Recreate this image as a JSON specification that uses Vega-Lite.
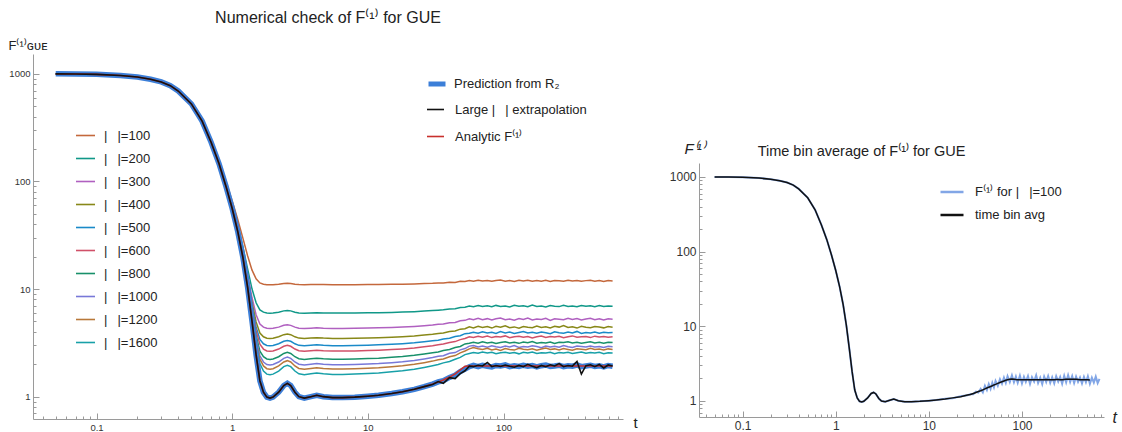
{
"$schema": "https://vega.github.io/schema/vega-lite/v6.json",
"background": "white",
"padding": {"left": 8, "top": 10, "right": 5, "bottom": 0},
"config": {
  "font": "Liberation Sans",
  "view": {"stroke": null},
  "title": {"fontWeight": "normal", "color": "#222222", "font": "Liberation Sans"},
  "axis": {"grid": false, "domainColor": "#9a9a9a", "tickColor": "#9a9a9a", "labelColor": "#333333", "titleColor": "#222222", "titleFontWeight": "normal", "labelFont": "Liberation Sans", "titleFont": "Liberation Sans"},
  "legend": {"labelColor": "#222222", "labelFont": "Liberation Sans"}
},
"datasets": {
"left": [
{"t":0.05,"P":1000,"A":1000,"E":1000,"d100":1010,"d200":1005,"d300":1003,"d400":1003,"d500":1002,"d600":1002,"d800":1001,"d1000":1001,"d1200":1001,"d1600":1001},
{"t":0.07,"P":998,"A":998,"E":998,"d100":1008,"d200":1003,"d300":1001,"d400":1000,"d500":1000,"d600":1000,"d800":999,"d1000":999,"d1200":999,"d1600":999},
{"t":0.1,"P":990,"A":990,"E":990,"d100":1000,"d200":995,"d300":993,"d400":993,"d500":992,"d600":992,"d800":991,"d1000":991,"d1200":991,"d1600":991},
{"t":0.15,"P":967,"A":967,"E":967,"d100":977,"d200":972,"d300":970,"d400":970,"d500":969,"d600":969,"d800":968,"d1000":968,"d1200":968,"d1600":968},
{"t":0.2,"P":934,"A":934,"E":934,"d100":944,"d200":939,"d300":937,"d400":937,"d500":936,"d600":936,"d800":935,"d1000":935,"d1200":935,"d1600":935},
{"t":0.25,"P":892,"A":892,"E":892,"d100":902,"d200":897,"d300":895,"d400":895,"d500":894,"d600":894,"d800":893,"d1000":893,"d1200":893,"d1600":893},
{"t":0.3,"P":842,"A":842,"E":842,"d100":852,"d200":847,"d300":845,"d400":845,"d500":844,"d600":844,"d800":843,"d1000":843,"d1200":843,"d1600":843},
{"t":0.35,"P":777,"A":777,"E":777,"d100":787,"d200":782,"d300":780,"d400":780,"d500":779,"d600":779,"d800":778,"d1000":778,"d1200":778,"d1600":778},
{"t":0.4,"P":693,"A":693,"E":693,"d100":703,"d200":698,"d300":696,"d400":696,"d500":695,"d600":695,"d800":694,"d1000":694,"d1200":694,"d1600":694},
{"t":0.5,"P":526,"A":526,"E":526,"d100":536,"d200":531,"d300":529,"d400":529,"d500":528,"d600":528,"d800":527,"d1000":527,"d1200":527,"d1600":527},
{"t":0.6,"P":364,"A":364,"E":364,"d100":374,"d200":369,"d300":367,"d400":367,"d500":366,"d600":366,"d800":365,"d1000":365,"d1200":365,"d1600":365},
{"t":0.7,"P":230,"A":230,"E":230,"d100":240,"d200":235,"d300":233,"d400":233,"d500":232,"d600":232,"d800":231,"d1000":231,"d1200":231,"d1600":231},
{"t":0.8,"P":146,"A":146,"E":146,"d100":156,"d200":151,"d300":149,"d400":149,"d500":148,"d600":148,"d800":147,"d1000":147,"d1200":147,"d1600":147},
{"t":0.9,"P":90,"A":90,"E":90,"d100":100,"d200":95,"d300":93.3,"d400":92.5,"d500":92,"d600":91.7,"d800":91.3,"d1000":91,"d1200":90.8,"d1600":90.6},
{"t":1.0,"P":56,"A":56,"E":56,"d100":66,"d200":61,"d300":59.3,"d400":58.5,"d500":58,"d600":57.7,"d800":57.3,"d1000":57,"d1200":56.8,"d1600":56.6},
{"t":1.1,"P":34,"A":34,"E":34,"d100":44,"d200":39,"d300":37.3,"d400":36.5,"d500":36,"d600":35.7,"d800":35.3,"d1000":35,"d1200":34.8,"d1600":34.6},
{"t":1.2,"P":19.6,"A":19.6,"E":19.6,"d100":29.6,"d200":24.6,"d300":22.9,"d400":22.1,"d500":21.6,"d600":21.3,"d800":20.9,"d1000":20.6,"d1200":20.4,"d1600":20.2},
{"t":1.3,"P":10.3,"A":10.3,"E":10.3,"d100":20.3,"d200":15.3,"d300":13.6,"d400":12.8,"d500":12.3,"d600":12,"d800":11.6,"d1000":11.3,"d1200":11.1,"d1600":10.9},
{"t":1.4,"P":5.0,"A":5.0,"E":5.0,"d100":15,"d200":10,"d300":8.3,"d400":7.5,"d500":7,"d600":6.7,"d800":6.3,"d1000":6,"d1200":5.8,"d1600":5.6},
{"t":1.5,"P":2.45,"A":2.45,"E":2.45,"d100":12.45,"d200":7.45,"d300":5.78,"d400":4.95,"d500":4.45,"d600":4.12,"d800":3.7,"d1000":3.45,"d1200":3.28,"d1600":3.08},
{"t":1.6,"P":1.4,"A":1.4,"E":1.4,"d100":11.4,"d200":6.4,"d300":4.73,"d400":3.9,"d500":3.4,"d600":3.07,"d800":2.65,"d1000":2.4,"d1200":2.23,"d1600":2.03},
{"t":1.7,"P":1.1,"A":1.1,"E":1.1,"d100":11.1,"d200":6.1,"d300":4.43,"d400":3.6,"d500":3.1,"d600":2.77,"d800":2.35,"d1000":2.1,"d1200":1.93,"d1600":1.73},
{"t":1.8,"P":0.99,"A":0.99,"E":0.99,"d100":10.99,"d200":5.99,"d300":4.32,"d400":3.49,"d500":2.99,"d600":2.66,"d800":2.24,"d1000":1.99,"d1200":1.82,"d1600":1.62},
{"t":1.9,"P":0.97,"A":0.97,"E":0.97,"d100":10.97,"d200":5.97,"d300":4.3,"d400":3.47,"d500":2.97,"d600":2.64,"d800":2.22,"d1000":1.97,"d1200":1.8,"d1600":1.6},
{"t":2.0,"P":0.99,"A":0.99,"E":0.99,"d100":10.99,"d200":5.99,"d300":4.32,"d400":3.49,"d500":2.99,"d600":2.66,"d800":2.24,"d1000":1.99,"d1200":1.82,"d1600":1.62},
{"t":2.2,"P":1.1,"A":1.1,"E":1.1,"d100":11.1,"d200":6.1,"d300":4.43,"d400":3.6,"d500":3.1,"d600":2.77,"d800":2.35,"d1000":2.1,"d1200":1.93,"d1600":1.73},
{"t":2.4,"P":1.27,"A":1.27,"E":1.27,"d100":11.27,"d200":6.27,"d300":4.6,"d400":3.77,"d500":3.27,"d600":2.94,"d800":2.52,"d1000":2.27,"d1200":2.1,"d1600":1.9},
{"t":2.55,"P":1.33,"A":1.33,"E":1.33,"d100":11.33,"d200":6.33,"d300":4.66,"d400":3.83,"d500":3.33,"d600":3.0,"d800":2.58,"d1000":2.33,"d1200":2.16,"d1600":1.96},
{"t":2.7,"P":1.27,"A":1.27,"E":1.27,"d100":11.27,"d200":6.27,"d300":4.6,"d400":3.77,"d500":3.27,"d600":2.94,"d800":2.52,"d1000":2.27,"d1200":2.1,"d1600":1.9},
{"t":2.9,"P":1.1,"A":1.1,"E":1.1,"d100":11.1,"d200":6.1,"d300":4.43,"d400":3.6,"d500":3.1,"d600":2.77,"d800":2.35,"d1000":2.1,"d1200":1.93,"d1600":1.73},
{"t":3.1,"P":1.0,"A":1.0,"E":1.0,"d100":11,"d200":6,"d300":4.33,"d400":3.5,"d500":3,"d600":2.67,"d800":2.25,"d1000":2,"d1200":1.83,"d1600":1.63},
{"t":3.4,"P":0.97,"A":0.97,"E":0.97,"d100":10.97,"d200":5.97,"d300":4.3,"d400":3.47,"d500":2.97,"d600":2.64,"d800":2.22,"d1000":1.97,"d1200":1.8,"d1600":1.6},
{"t":3.8,"P":1.0,"A":1.0,"E":1.0,"d100":11,"d200":6,"d300":4.33,"d400":3.5,"d500":3,"d600":2.67,"d800":2.25,"d1000":2,"d1200":1.83,"d1600":1.63},
{"t":4.2,"P":1.03,"A":1.03,"E":1.03,"d100":11.03,"d200":6.03,"d300":4.36,"d400":3.53,"d500":3.03,"d600":2.7,"d800":2.28,"d1000":2.03,"d1200":1.86,"d1600":1.66},
{"t":4.7,"P":1.0,"A":1.0,"E":1.0,"d100":11,"d200":6,"d300":4.33,"d400":3.5,"d500":3,"d600":2.67,"d800":2.25,"d1000":2,"d1200":1.83,"d1600":1.63},
{"t":5.5,"P":0.98,"A":0.98,"E":0.98,"d100":10.98,"d200":5.98,"d300":4.31,"d400":3.48,"d500":2.98,"d600":2.65,"d800":2.23,"d1000":1.98,"d1200":1.81,"d1600":1.61},
{"t":6.5,"P":0.98,"A":0.98,"E":0.98,"d100":10.98,"d200":5.98,"d300":4.31,"d400":3.48,"d500":2.98,"d600":2.65,"d800":2.23,"d1000":1.98,"d1200":1.81,"d1600":1.61},
{"t":8,"P":0.99,"A":0.99,"E":0.99,"d100":10.99,"d200":5.99,"d300":4.32,"d400":3.49,"d500":2.99,"d600":2.66,"d800":2.24,"d1000":1.99,"d1200":1.82,"d1600":1.62},
{"t":10,"P":1.01,"A":1.01,"E":1.01,"d100":11.01,"d200":6.01,"d300":4.34,"d400":3.51,"d500":3.01,"d600":2.68,"d800":2.26,"d1000":2.01,"d1200":1.84,"d1600":1.64},
{"t":12,"P":1.03,"A":1.03,"E":1.03,"d100":11.03,"d200":6.03,"d300":4.36,"d400":3.53,"d500":3.03,"d600":2.7,"d800":2.28,"d1000":2.03,"d1200":1.86,"d1600":1.66},
{"t":15,"P":1.07,"A":1.07,"E":1.07,"d100":11.07,"d200":6.07,"d300":4.4,"d400":3.57,"d500":3.07,"d600":2.74,"d800":2.32,"d1000":2.07,"d1200":1.9,"d1600":1.7},
{"t":18,"P":1.11,"A":1.11,"E":1.11,"d100":11.11,"d200":6.11,"d300":4.44,"d400":3.61,"d500":3.11,"d600":2.78,"d800":2.36,"d1000":2.11,"d1200":1.94,"d1600":1.74},
{"t":22,"P":1.17,"A":1.17,"E":1.17,"d100":11.17,"d200":6.17,"d300":4.5,"d400":3.67,"d500":3.17,"d600":2.84,"d800":2.42,"d1000":2.17,"d1200":2.0,"d1600":1.8},
{"t":26,"P":1.24,"A":1.24,"E":1.24,"d100":11.24,"d200":6.24,"d300":4.57,"d400":3.74,"d500":3.24,"d600":2.91,"d800":2.49,"d1000":2.24,"d1200":2.07,"d1600":1.87},
{"t":30,"P":1.31,"A":1.31,"E":1.3,"d100":11.31,"d200":6.31,"d300":4.64,"d400":3.81,"d500":3.31,"d600":2.98,"d800":2.56,"d1000":2.31,"d1200":2.14,"d1600":1.94},
{"t":33,"P":1.37,"A":1.37,"E":1.38,"d100":11.39,"d200":6.37,"d300":4.7,"d400":3.87,"d500":3.35,"d600":3.04,"d800":2.6,"d1000":2.37,"d1200":2.2,"d1600":1.99},
{"t":36,"P":1.41,"A":1.43,"E":1.33,"d100":11.37,"d200":6.41,"d300":4.74,"d400":3.9,"d500":3.44,"d600":3.08,"d800":2.68,"d1000":2.4,"d1200":2.24,"d1600":2.06},
{"t":40,"P":1.51,"A":1.52,"E":1.5,"d100":11.58,"d200":6.53,"d300":4.86,"d400":4.04,"d500":3.49,"d600":3.19,"d800":2.74,"d1000":2.53,"d1200":2.35,"d1600":2.12},
{"t":44,"P":1.58,"A":1.63,"E":1.47,"d100":11.53,"d200":6.57,"d300":4.9,"d400":4.07,"d500":3.62,"d600":3.25,"d800":2.86,"d1000":2.57,"d1200":2.41,"d1600":2.23},
{"t":48,"P":1.71,"A":1.77,"E":1.64,"d100":11.79,"d200":6.74,"d300":5.07,"d400":4.24,"d500":3.68,"d600":3.39,"d800":2.93,"d1000":2.72,"d1200":2.55,"d1600":2.32},
{"t":52,"P":1.8,"A":1.92,"E":1.74,"d100":11.74,"d200":6.78,"d300":5.12,"d400":4.28,"d500":3.85,"d600":3.47,"d800":3.09,"d1000":2.8,"d1200":2.66,"d1600":2.46},
{"t":56,"P":1.9,"A":1.93,"E":1.92,"d100":12.02,"d200":6.95,"d300":5.3,"d400":4.46,"d500":3.88,"d600":3.6,"d800":3.13,"d1000":2.95,"d1200":2.78,"d1600":2.52},
{"t":60,"P":1.95,"A":1.93,"E":1.9,"d100":11.84,"d200":6.86,"d300":5.18,"d400":4.36,"d500":3.97,"d600":3.55,"d800":3.2,"d1000":2.99,"d1200":2.86,"d1600":2.57},
{"t":65,"P":1.9,"A":1.93,"E":1.96,"d100":12.08,"d200":7.02,"d300":5.36,"d400":4.52,"d500":3.89,"d600":3.64,"d800":3.14,"d1000":2.9,"d1200":2.79,"d1600":2.53},
{"t":70,"P":1.96,"A":1.93,"E":1.93,"d100":11.87,"d200":6.88,"d300":5.2,"d400":4.39,"d500":4.0,"d600":3.57,"d800":3.23,"d1000":2.96,"d1200":2.74,"d1600":2.6},
{"t":76,"P":1.92,"A":1.93,"E":2.08,"d100":12.03,"d200":6.99,"d300":5.31,"d400":4.48,"d500":3.9,"d600":3.66,"d800":3.16,"d1000":2.88,"d1200":2.81,"d1600":2.54},
{"t":82,"P":1.89,"A":1.93,"E":1.9,"d100":11.8,"d200":6.84,"d300":5.16,"d400":4.34,"d500":3.96,"d600":3.54,"d800":3.21,"d1000":2.97,"d1200":2.72,"d1600":2.58},
{"t":88,"P":1.95,"A":1.93,"E":1.95,"d100":12.01,"d200":7.05,"d300":5.29,"d400":4.5,"d500":3.87,"d600":3.62,"d800":3.12,"d1000":2.91,"d1200":2.77,"d1600":2.51},
{"t":95,"P":1.93,"A":1.93,"E":1.91,"d100":12.11,"d200":6.9,"d300":5.38,"d400":4.41,"d500":4.02,"d600":3.58,"d800":3.19,"d1000":2.86,"d1200":2.69,"d1600":2.56},
{"t":103,"P":1.97,"A":1.93,"E":1.97,"d100":11.83,"d200":6.97,"d300":5.19,"d400":4.56,"d500":3.91,"d600":3.67,"d800":3.24,"d1000":2.95,"d1200":2.8,"d1600":2.59},
{"t":111,"P":1.9,"A":1.93,"E":1.92,"d100":11.99,"d200":6.83,"d300":5.27,"d400":4.37,"d500":3.98,"d600":3.53,"d800":3.15,"d1000":2.9,"d1200":2.75,"d1600":2.53},
{"t":120,"P":1.94,"A":1.93,"E":1.88,"d100":11.78,"d200":7.06,"d300":5.14,"d400":4.45,"d500":3.86,"d600":3.61,"d800":3.2,"d1000":2.98,"d1200":2.71,"d1600":2.57},
{"t":130,"P":1.91,"A":1.93,"E":1.95,"d100":12.05,"d200":6.92,"d300":5.33,"d400":4.33,"d500":3.95,"d600":3.65,"d800":3.13,"d1000":2.87,"d1200":2.82,"d1600":2.5},
{"t":140,"P":1.96,"A":1.93,"E":1.9,"d100":11.88,"d200":6.98,"d300":5.22,"d400":4.49,"d500":4.03,"d600":3.56,"d800":3.22,"d1000":2.93,"d1200":2.76,"d1600":2.58},
{"t":151,"P":1.92,"A":1.93,"E":2.0,"d100":12.09,"d200":6.85,"d300":5.37,"d400":4.42,"d500":3.9,"d600":3.63,"d800":3.17,"d1000":2.89,"d1200":2.73,"d1600":2.55},
{"t":163,"P":1.95,"A":1.93,"E":1.92,"d100":11.81,"d200":7.1,"d300":5.17,"d400":4.38,"d500":3.97,"d600":3.52,"d800":3.25,"d1000":2.97,"d1200":2.79,"d1600":2.6},
{"t":176,"P":1.89,"A":1.93,"E":1.86,"d100":12.01,"d200":6.89,"d300":5.28,"d400":4.54,"d500":3.88,"d600":3.6,"d800":3.14,"d1000":2.92,"d1200":2.7,"d1600":2.52},
{"t":190,"P":1.94,"A":1.93,"E":1.95,"d100":11.85,"d200":6.95,"d300":5.21,"d400":4.4,"d500":3.99,"d600":3.66,"d800":3.19,"d1000":2.85,"d1200":2.77,"d1600":2.56},
{"t":205,"P":1.97,"A":1.93,"E":1.9,"d100":12.06,"d200":6.82,"d300":5.34,"d400":4.47,"d500":3.92,"d600":3.55,"d800":3.16,"d1000":2.96,"d1200":2.83,"d1600":2.54},
{"t":221,"P":1.91,"A":1.93,"E":1.98,"d100":11.77,"d200":7.03,"d300":5.12,"d400":4.35,"d500":3.85,"d600":3.62,"d800":3.22,"d1000":2.9,"d1200":2.74,"d1600":2.59},
{"t":238,"P":1.93,"A":1.93,"E":1.93,"d100":12.02,"d200":6.93,"d300":5.3,"d400":4.5,"d500":4.01,"d600":3.58,"d800":3.12,"d1000":2.94,"d1200":2.78,"d1600":2.51},
{"t":257,"P":1.96,"A":1.93,"E":2.03,"d100":11.96,"d200":6.87,"d300":5.25,"d400":4.43,"d500":3.93,"d600":3.64,"d800":3.2,"d1000":2.88,"d1200":2.72,"d1600":2.57},
{"t":277,"P":1.9,"A":1.93,"E":1.9,"d100":11.81,"d200":7.07,"d300":5.18,"d400":4.58,"d500":3.89,"d600":3.53,"d800":3.18,"d1000":2.99,"d1200":2.8,"d1600":2.55},
{"t":299,"P":1.94,"A":1.93,"E":1.95,"d100":12.08,"d200":6.9,"d300":5.35,"d400":4.39,"d500":3.98,"d600":3.61,"d800":3.24,"d1000":2.91,"d1200":2.75,"d1600":2.58},
{"t":322,"P":1.92,"A":1.93,"E":1.92,"d100":11.87,"d200":6.96,"d300":5.21,"d400":4.46,"d500":3.91,"d600":3.67,"d800":3.15,"d1000":2.87,"d1200":2.7,"d1600":2.52},
{"t":348,"P":1.97,"A":1.93,"E":2.12,"d100":12.03,"d200":6.84,"d300":5.32,"d400":4.34,"d500":4.04,"d600":3.56,"d800":3.21,"d1000":2.95,"d1200":2.79,"d1600":2.56},
{"t":375,"P":1.9,"A":1.93,"E":1.62,"d100":11.8,"d200":7.04,"d300":5.15,"d400":4.51,"d500":3.87,"d600":3.6,"d800":3.13,"d1000":2.92,"d1200":2.76,"d1600":2.6},
{"t":405,"P":1.93,"A":1.93,"E":1.94,"d100":11.98,"d200":6.91,"d300":5.27,"d400":4.41,"d500":3.95,"d600":3.63,"d800":3.19,"d1000":2.89,"d1200":2.73,"d1600":2.53},
{"t":437,"P":1.96,"A":1.93,"E":1.98,"d100":12.05,"d200":6.99,"d300":5.34,"d400":4.37,"d500":3.9,"d600":3.54,"d800":3.23,"d1000":2.96,"d1200":2.81,"d1600":2.57},
{"t":471,"P":1.91,"A":1.93,"E":1.9,"d100":11.84,"d200":6.86,"d300":5.2,"d400":4.49,"d500":3.99,"d600":3.65,"d800":3.16,"d1000":2.9,"d1200":2.74,"d1600":2.54},
{"t":508,"P":1.94,"A":1.93,"E":1.99,"d100":12.01,"d200":7.02,"d300":5.3,"d400":4.44,"d500":3.88,"d600":3.58,"d800":3.2,"d1000":2.93,"d1200":2.77,"d1600":2.58},
{"t":548,"P":1.89,"A":1.93,"E":1.85,"d100":11.78,"d200":6.88,"d300":5.16,"d400":4.36,"d500":3.96,"d600":3.62,"d800":3.14,"d1000":2.87,"d1200":2.71,"d1600":2.51},
{"t":591,"P":1.95,"A":1.93,"E":1.97,"d100":12.03,"d200":6.97,"d300":5.29,"d400":4.48,"d500":3.92,"d600":3.56,"d800":3.21,"d1000":2.94,"d1200":2.78,"d1600":2.56},
{"t":637,"P":1.92,"A":1.93,"E":1.93,"d100":11.9,"d200":6.93,"d300":5.24,"d400":4.42,"d500":3.94,"d600":3.6,"d800":3.18,"d1000":2.91,"d1200":2.75,"d1600":2.55}
],
"right": [
{"t":0.05,"L":1000,"B":1000},{"t":0.07,"L":998,"B":998},{"t":0.1,"L":990,"B":990},{"t":0.15,"L":967,"B":967},{"t":0.2,"L":934,"B":934},{"t":0.25,"L":892,"B":892},{"t":0.3,"L":842,"B":842},{"t":0.35,"L":777,"B":777},{"t":0.4,"L":693,"B":693},{"t":0.5,"L":526,"B":526},{"t":0.6,"L":364,"B":364},{"t":0.7,"L":230,"B":230},{"t":0.8,"L":146,"B":146},{"t":0.9,"L":90,"B":90},{"t":1.0,"L":56,"B":56},{"t":1.1,"L":34,"B":34},{"t":1.2,"L":19.6,"B":19.6},{"t":1.3,"L":10.3,"B":10.3},{"t":1.4,"L":5.0,"B":5.0},{"t":1.5,"L":2.45,"B":2.45},{"t":1.6,"L":1.4,"B":1.4},{"t":1.7,"L":1.1,"B":1.1},{"t":1.8,"L":0.99,"B":0.99},{"t":1.9,"L":0.97,"B":0.97},{"t":2.0,"L":0.99,"B":0.99},{"t":2.2,"L":1.1,"B":1.1},{"t":2.4,"L":1.26,"B":1.26},{"t":2.55,"L":1.3,"B":1.3},{"t":2.7,"L":1.24,"B":1.24},{"t":2.9,"L":1.08,"B":1.08},{"t":3.1,"L":1.0,"B":1.0},{"t":3.4,"L":0.98,"B":0.98},{"t":3.8,"L":1.02,"B":1.02},{"t":4.2,"L":1.06,"B":1.06},{"t":4.7,"L":1.01,"B":1.01},{"t":5.5,"L":0.98,"B":0.98},{"t":6.5,"L":0.98,"B":0.98},{"t":8,"L":0.99,"B":0.99},{"t":10,"L":1.01,"B":1.01},{"t":12,"L":1.03,"B":1.03},{"t":15,"L":1.07,"B":1.06},{"t":18,"L":1.09,"B":1.1},{"t":22,"L":1.16,"B":1.14},{"t":26,"L":1.19,"B":1.2},
{"t":28,"L":1.24,"B":1.22},{"t":30,"L":1.23,"B":1.26},{"t":32,"L":1.33,"B":1.3},{"t":34,"L":1.3,"B":1.34},{"t":36,"L":1.45,"B":1.37},{"t":38,"L":1.3,"B":1.41},{"t":40,"L":1.6,"B":1.45},{"t":42,"L":1.4,"B":1.49},{"t":44,"L":1.68,"B":1.53},{"t":46,"L":1.45,"B":1.56},{"t":48,"L":1.75,"B":1.6},{"t":50,"L":1.52,"B":1.64},{"t":52,"L":1.85,"B":1.67},{"t":55,"L":1.6,"B":1.72},{"t":58,"L":1.95,"B":1.77},{"t":61,"L":1.7,"B":1.81},{"t":64,"L":2.05,"B":1.85},{"t":67,"L":1.75,"B":1.89},{"t":70,"L":2.15,"B":1.92},{"t":74,"L":1.8,"B":1.95},{"t":78,"L":2.2,"B":1.97},{"t":82,"L":1.78,"B":1.96},{"t":86,"L":2.12,"B":1.94},{"t":90,"L":1.75,"B":1.93},{"t":95,"L":2.18,"B":1.92},{"t":100,"L":1.72,"B":1.93},{"t":105,"L":2.1,"B":1.93},{"t":110,"L":1.8,"B":1.92},{"t":116,"L":2.15,"B":1.92},{"t":122,"L":1.7,"B":1.93},{"t":128,"L":2.08,"B":1.92},{"t":135,"L":1.82,"B":1.92},{"t":142,"L":2.2,"B":1.93},{"t":149,"L":1.74,"B":1.93},{"t":157,"L":2.05,"B":1.92},{"t":165,"L":1.68,"B":1.92},{"t":173,"L":2.12,"B":1.93},{"t":182,"L":1.8,"B":1.94},{"t":191,"L":2.16,"B":1.93},{"t":201,"L":1.75,"B":1.93},{"t":211,"L":2.08,"B":1.92},{"t":222,"L":1.72,"B":1.93},{"t":233,"L":2.14,"B":1.94},{"t":245,"L":1.82,"B":1.94},{"t":257,"L":2.1,"B":1.93},{"t":270,"L":1.7,"B":1.93},{"t":284,"L":2.18,"B":1.94},{"t":298,"L":1.78,"B":1.95},{"t":313,"L":2.22,"B":1.95},{"t":329,"L":1.8,"B":1.96},{"t":346,"L":2.15,"B":1.96},{"t":363,"L":1.74,"B":1.96},{"t":381,"L":2.12,"B":1.95},{"t":400,"L":1.8,"B":1.94},{"t":420,"L":2.06,"B":1.93},{"t":441,"L":1.72,"B":1.93},{"t":463,"L":2.1,"B":1.92},{"t":486,"L":1.78,"B":1.92},{"t":510,"L":2.14,"B":1.92},{"t":536,"L":1.7,"B":1.91},{"t":563,"L":2.05},{"t":591,"L":1.76},{"t":620,"L":2.12},{"t":650,"L":1.74},{"t":680,"L":1.98}
]
},
"spacing": 31,
"resolve": {"scale": {"color": "independent"}, "legend": {"color": "independent"}},
"hconcat": [
{
  "width": 590,
  "height": 365,
  "title": {"text": "Numerical check of F⁽¹⁾ for GUE", "fontSize": 16, "anchor": "middle", "frame": "group", "offset": 13},
  "data": {"name": "left"},
  "encoding": {
    "x": {"field": "t", "type": "quantitative",
      "scale": {"type": "log", "domain": [0.034, 760], "nice": false},
      "axis": {
        "values": [0.04,0.05,0.06,0.07,0.08,0.09,0.1,0.2,0.3,0.4,0.5,0.6,0.7,0.8,0.9,1,2,3,4,5,6,7,8,9,10,20,30,40,50,60,70,80,90,100,200,300,400,500,600,700],
        "format": "~g",
        "labelExpr": "(datum.value==0.1||datum.value==1||datum.value==10||datum.value==100)?datum.label:''",
        "tickSize": {"condition": {"test": "datum.value==0.1||datum.value==1||datum.value==10||datum.value==100", "value": -6}, "value": -3},
        "labelPadding": 9, "labelFontSize": 9.5, "labelOverlap": false, "labelFlush": false,
        "title": "t", "titleAngle": 0, "titleX": 600, "titleY": 3, "titleAlign": "left", "titleBaseline": "middle", "titleFontSize": 15
      }
    },
    "y": {"field": "value", "type": "quantitative",
      "scale": {"type": "log", "domain": [0.62, 1530], "nice": false},
      "axis": {
        "values": [0.7,0.8,0.9,1,2,3,4,5,6,7,8,9,10,20,30,40,50,60,70,80,90,100,200,300,400,500,600,700,800,900,1000],
        "format": "~g",
        "labelExpr": "(datum.value==1||datum.value==10||datum.value==100||datum.value==1000)?datum.label:''",
        "tickSize": {"condition": {"test": "datum.value==1||datum.value==10||datum.value==100||datum.value==1000", "value": -6}, "value": -3},
        "labelPadding": 9, "labelFontSize": 9.5, "labelOverlap": false, "labelFlush": false,
        "title": "F⁽¹⁾ɢᴜᴇ", "titleAngle": 0, "titleX": -25, "titleY": -5, "titleAlign": "left", "titleBaseline": "alphabetic", "titleFontSize": 13
      }
    }
  },
  "layer": [
    {
      "transform": [{"fold": ["d100","d200","d300","d400","d500","d600","d800","d1000","d1200","d1600"], "as": ["series","value"]}],
      "mark": {"type": "line", "strokeWidth": 1.5},
      "encoding": {
        "color": {"field": "series", "type": "nominal",
          "scale": {"domain": ["d100","d200","d300","d400","d500","d600","d800","d1000","d1200","d1600"],
                    "range": ["#c4683c","#109888","#b060c0","#888818","#1a8ac8","#d05068","#18906a","#7878d8","#b8783a","#18a0a8"]},
          "legend": {"title": null, "orient": "none", "legendX": 42, "legendY": 71, "symbolType": "stroke", "symbolSize": 361, "symbolStrokeWidth": 1.6, "labelFontSize": 13, "labelOffset": 8, "rowPadding": 5,
                     "labelExpr": "replace(datum.label, 'd', '|\u2002 |=')"}
        }
      }
    },
    {
      "transform": [{"fold": ["P"], "as": ["series","value"]}],
      "mark": {"type": "line", "strokeWidth": 5.5},
      "encoding": {
        "color": {"field": "series", "type": "nominal",
          "scale": {"domain": ["P"], "range": ["#3c7fd8"]},
          "legend": {"title": null, "orient": "none", "legendX": 393, "legendY": 19, "symbolType": "stroke", "symbolSize": 289, "symbolStrokeWidth": 5, "labelFontSize": 13, "labelOffset": 6,
            "labelExpr": "'Prediction from R₂'"}
        }
      }
    },
    {
      "transform": [{"fold": ["A","E"], "as": ["series","value"]}],
      "mark": {"type": "line", "strokeWidth": 1.6},
      "encoding": {
        "color": {"field": "series", "type": "nominal",
          "scale": {"domain": ["E","A"], "range": ["#111111","#c8302c"]},
          "legend": {"title": null, "orient": "none", "legendX": 393, "legendY": 46, "symbolType": "stroke", "symbolSize": 289, "symbolStrokeWidth": 1.6, "labelFontSize": 13, "labelOffset": 10, "rowPadding": 10,
            "labelExpr": "datum.label=='E'?'Large |\u2002 | extrapolation':'Analytic F⁽¹⁾'"}
        }
      }
    }
  ],
  "resolve": {"scale": {"color": "independent"}, "legend": {"color": "independent"}}
},
{
  "spacing": 0,
  "resolve": {"scale": {"color": "independent"}, "legend": {"color": "independent"}},
  "vconcat": [
    {"width": 10, "height": 87, "data": {"values": []}, "mark": "point"},
    {
      "width": 405,
      "height": 254,
      "title": {"text": "Time bin average of F⁽¹⁾ for GUE", "fontSize": 14.5, "anchor": "middle", "frame": "group", "offset": 0, "dx": -40, "dy": 18},
      "data": {"name": "right"},
      "encoding": {
        "x": {"field": "t", "type": "quantitative",
          "scale": {"type": "log", "domain": [0.034, 760], "nice": false},
          "axis": {
            "values": [0.04,0.05,0.06,0.07,0.08,0.09,0.1,0.2,0.3,0.4,0.5,0.6,0.7,0.8,0.9,1,2,3,4,5,6,7,8,9,10,20,30,40,50,60,70,80,90,100,200,300,400,500,600,700],
            "format": "~g",
            "labelExpr": "(datum.value==0.1||datum.value==1||datum.value==10||datum.value==100)?datum.label:''",
            "tickSize": {"condition": {"test": "datum.value==0.1||datum.value==1||datum.value==10||datum.value==100", "value": -6}, "value": -3},
            "labelPadding": 9, "labelFontSize": 12, "labelOverlap": false, "labelFlush": false,
            "title": "t", "titleAngle": 0, "titleX": 413, "titleY": 0, "titleAlign": "left", "titleBaseline": "middle", "titleFontSize": 16, "titleFontStyle": "italic"
          }
        },
        "y": {"field": "value", "type": "quantitative",
          "scale": {"type": "log", "domain": [0.61, 1540], "nice": false},
          "axis": {
            "values": [0.7,0.8,0.9,1,2,3,4,5,6,7,8,9,10,20,30,40,50,60,70,80,90,100,200,300,400,500,600,700,800,900,1000],
            "format": "~g",
            "labelExpr": "(datum.value==1||datum.value==10||datum.value==100||datum.value==1000)?datum.label:''",
            "tickSize": {"condition": {"test": "datum.value==1||datum.value==10||datum.value==100||datum.value==1000", "value": -6}, "value": -3},
            "labelPadding": 9, "labelFontSize": 12, "labelOverlap": false, "labelFlush": false,
            "title": "F⁽¹⁾", "titleAngle": 0, "titleX": -15, "titleY": -10, "titleAlign": "left", "titleBaseline": "alphabetic", "titleFontSize": 15, "titleFontStyle": "italic"
          }
        }
      },
      "layer": [
        {
          "transform": [{"fold": ["L"], "as": ["series","value"]}],
          "mark": {"type": "line", "strokeWidth": 2},
          "encoding": {
            "color": {"field": "series", "type": "nominal",
              "scale": {"domain": ["L","B"], "range": ["#82a6e6","#111111"]},
              "legend": {"title": null, "orient": "none", "legendX": 240, "legendY": 16, "symbolType": "stroke", "symbolSize": 529, "symbolStrokeWidth": 2.5, "labelFontSize": 13, "labelOffset": 10, "rowPadding": 3,
                "labelExpr": "datum.label=='L'?'F⁽¹⁾ for |\u2002 |=100':'time bin avg'"}
            }
          }
        },
        {
          "transform": [{"fold": ["B"], "as": ["series","value"]}],
          "mark": {"type": "line", "strokeWidth": 1.5},
          "encoding": {
            "color": {"field": "series", "type": "nominal",
              "legend": {"title": null, "orient": "none", "legendX": 240, "legendY": 16, "symbolType": "stroke", "symbolSize": 529, "symbolStrokeWidth": 2.5, "labelFontSize": 13, "labelOffset": 10, "rowPadding": 3,
                "labelExpr": "datum.label=='L'?'F⁽¹⁾ for |\u2002 |=100':'time bin avg'"}
            }
          }
        }
      ]
    }
  ]
}
]
}
